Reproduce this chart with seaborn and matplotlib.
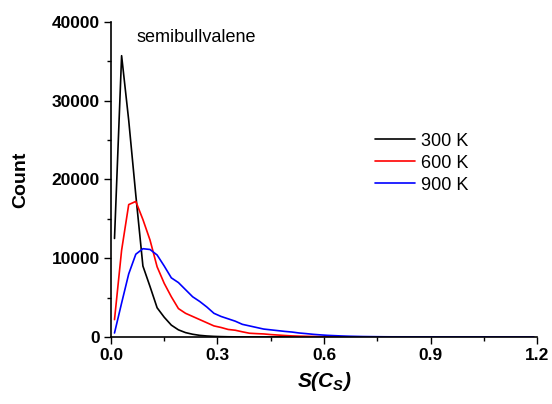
import numpy as np
import pandas as pd
import matplotlib
matplotlib.use("Agg")
import matplotlib.pyplot as plt
import seaborn as sns
from matplotlib.ticker import MultipleLocator

# ---- data ----
s_values = [0.01, 0.03, 0.05, 0.07, 0.09, 0.11, 0.13, 0.15, 0.17, 0.19,
            0.21, 0.23, 0.25, 0.27, 0.29, 0.31, 0.33, 0.35, 0.37, 0.39,
            0.41, 0.43, 0.45, 0.47, 0.49, 0.51, 0.53, 0.55, 0.57, 0.59,
            0.61, 0.63, 0.65, 0.67, 0.69, 0.71, 0.73, 0.75, 0.77, 0.79, 1.19]
count_300K = [12500, 35700, 27500, 18000, 9000, 6400, 3700, 2500, 1500, 900,
              550, 340, 200, 120, 70, 40, 20, 10, 5, 0,
              0, 0, 0, 0, 0, 0, 0, 0, 0, 0,
              0, 0, 0, 0, 0, 0, 0, 0, 0, 0, 0]
count_600K = [2200, 11000, 16800, 17200, 14900, 12300, 8900, 6800, 5100, 3600,
              3000, 2600, 2200, 1800, 1400, 1200, 950, 850, 650, 470,
              420, 380, 300, 240, 180, 130, 100, 80, 60, 40,
              30, 20, 15, 10, 5, 0, 0, 0, 0, 0, 0]
count_900K = [500, 4300, 8000, 10500, 11200, 11100, 10400, 9000, 7500, 6900,
              6000, 5100, 4500, 3800, 3000, 2600, 2300, 2000, 1600, 1400,
              1200, 1000, 900, 800, 700, 620, 500, 420, 330, 260,
              200, 160, 120, 90, 70, 50, 40, 30, 20, 15, 0]
labels = ["300 K", "600 K", "900 K"]
colors = ["#000000", "#ff0000", "#0000ff"]
x_ticks = [0.0, 0.3, 0.6, 0.9, 1.2]
y_ticks = [0, 10000, 20000, 30000, 40000]

frames = []
for lab, vals in zip(labels, [count_300K, count_600K, count_900K]):
    frames.append(pd.DataFrame({"S": s_values, "Count": vals, "T": lab}))
df = pd.concat(frames, ignore_index=True)

sns.set_theme(style="ticks")
plt.rcParams["font.family"] = ["Liberation Sans", "DejaVu Sans"]
plt.rcParams["mathtext.fontset"] = "custom"
plt.rcParams["mathtext.it"] = "Liberation Sans:italic:bold"
plt.rcParams["mathtext.rm"] = "Liberation Sans:italic:bold"
plt.rcParams["mathtext.bf"] = "Liberation Sans:italic:bold"
plt.rcParams["text.color"] = "black"
plt.rcParams["axes.labelcolor"] = "black"
plt.rcParams["xtick.color"] = "black"
plt.rcParams["ytick.color"] = "black"

fig = plt.figure(figsize=(5.52, 4.04), dpi=100)
ax = fig.add_axes([0.201, 0.166, 0.772, 0.78])

sns.lineplot(data=df, x="S", y="Count", hue="T", palette=colors,
             linewidth=1.2, ax=ax, sort=False, estimator=None)

ax.set_xlim(0, 1.2)
ax.set_ylim(0, 40000)
ax.set_xticks(x_ticks)
ax.set_xticklabels([f"{v:.1f}" for v in x_ticks])
ax.set_yticks(y_ticks)
ax.set_yticklabels([str(v) for v in y_ticks])
ax.xaxis.set_minor_locator(MultipleLocator(0.15))
ax.yaxis.set_minor_locator(MultipleLocator(5000))
ax.tick_params(which="major", direction="out", length=5, width=1, labelsize=12.5, pad=3)
ax.tick_params(which="minor", direction="out", length=3, width=1)
for t in ax.get_xticklabels() + ax.get_yticklabels():
    t.set_fontweight("bold")
for sp in ["top", "right"]:
    ax.spines[sp].set_visible(False)
for sp in ["left", "bottom"]:
    ax.spines[sp].set_linewidth(1.2)
    ax.spines[sp].set_color("black")

ax.set_ylabel("Count", fontsize=14, fontweight="bold", labelpad=16)
ax.set_xlabel(r"$S(C_S)$", fontsize=15, labelpad=5)

ax.text(0.073, 38000, "semibullvalene", fontsize=13, va="center", ha="left")

leg = ax.legend(loc="upper left", bbox_to_anchor=(0.581, 0.70), frameon=False,
                fontsize=13, handlelength=2.2, handletextpad=0.35, labelspacing=0.28,
                title=None)

fig.savefig("out.png", dpi=100)
